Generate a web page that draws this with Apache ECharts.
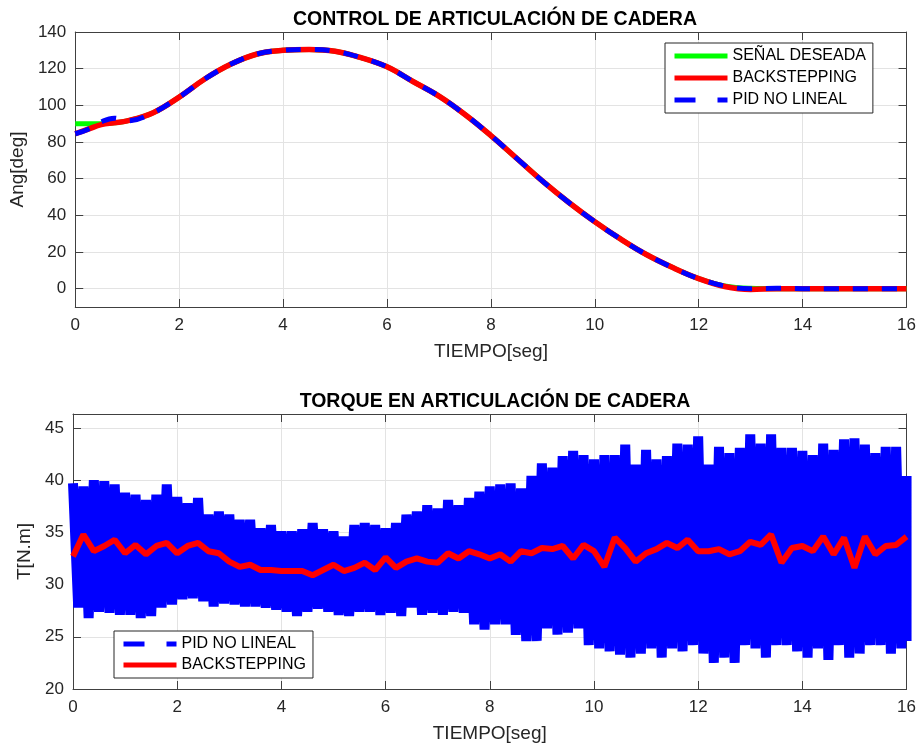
<!DOCTYPE html>
<html><head><meta charset="utf-8">
<script src="https://cdn.jsdelivr.net/npm/echarts@6/dist/echarts.min.js"></script>
<style>html,body{margin:0;padding:0;background:#fff}#c{width:919px;height:749px}</style>
</head><body><div id="c"></div>
<script>
// ---------- Top plot: hip joint angle ----------
const timeAng = [0,0.25,0.5,0.75,1,1.5,2,2.5,3,3.5,4,4.5,5,5.5,6,6.5,7,7.5,8,8.5,9,9.5,10,10.5,11,11.5,12,12.5,13,13.5,14,14.5,15,15.5,16];
const angDeseada = [90,90,90,90.5,91.5,96,104.5,114.5,122.5,128,130,130.5,129.5,126,121,113,105,95,83.5,71,58.5,47,36.5,27,18.5,11.5,5.5,1.5,0.2,0,0,0,0,0,0];
const angBackstepping = [84.5,87,89.5,90.5,91.5,96,104.5,114.5,122.5,128,130,130.5,129.5,126,121,113,105,95,83.5,71,58.5,47,36.5,27,18.5,11.5,5.5,1.2,-0.4,0,0,0,0,0,0];
const angPid = [84.5,87,91,93,91.5,96,104.5,114.5,122.5,128,130,130.5,129.5,126,121,113,105,95,83.5,71,58.5,47,36.5,27,18.5,11.5,5.5,1.5,0,0.2,0,0,0,0,0];
const angTicks = [0,20,40,60,80,100,120,140];

// ---------- Bottom plot: hip joint torque ----------
const timeTorque = [0,0.2,0.4,0.6,0.8,1,1.2,1.4,1.6,1.8,2,2.2,2.4,2.6,2.8,3,3.2,3.4,3.6,3.8,4,4.2,4.4,4.6,4.8,5,5.2,5.4,5.6,5.8,6,6.2,6.4,6.6,6.8,7,7.2,7.4,7.6,7.8,8,8.2,8.4,8.6,8.8,9,9.2,9.4,9.6,9.8,10,10.2,10.4,10.6,10.8,11,11.2,11.4,11.6,11.8,12,12.2,12.4,12.6,12.8,13,13.2,13.4,13.6,13.8,14,14.2,14.4,14.6,14.8,15,15.2,15.4,15.6,15.8,16];
// PID NO LINEAL oscillation extremes (peaks / troughs)
const torquePidHigh = [39.7,39.4,40.0,39.9,39.6,38.8,38.6,38.1,38.6,39.6,38.4,37.8,38.3,36.7,37.0,36.7,36.2,36.2,35.4,35.7,35.1,35.1,35.3,35.9,35.3,35.1,34.6,35.7,35.9,35.7,35.4,35.9,36.7,37.0,37.6,37.3,38.1,37.6,38.3,38.9,39.4,39.6,39.7,39.2,40.4,41.6,41.2,42.3,42.8,42.4,42.0,42.4,42.4,43.4,41.5,42.9,42.0,42.3,43.5,43.4,44.2,41.5,43.2,42.6,43.1,44.4,43.5,44.4,43.1,43.1,42.8,42.4,43.5,42.9,43.9,44.0,43.4,42.6,43.2,43.2,40.4];
const torquePidLow = [27.8,26.8,27.4,27.3,27.1,27.1,26.8,27.0,27.8,28.1,28.6,28.7,28.4,27.9,28.2,28.1,27.9,27.9,27.8,27.6,27.4,27.0,27.4,27.7,27.4,27.1,27.0,27.4,27.4,27.1,27.3,27.0,27.8,27.1,27.3,27.1,27.4,27.3,26.2,25.7,26.2,26.2,25.2,24.6,24.6,25.8,25.2,25.4,25.8,24.2,23.9,23.6,23.3,23.0,23.4,23.9,23.0,23.9,23.6,24.2,23.4,22.5,23.0,22.5,24.2,23.9,23.0,24.2,24.2,23.6,23.0,23.9,22.8,24.2,23.0,23.4,24.2,24.2,23.4,23.9,24.6];
const torqueBackstepping = [32.7,34.8,33.2,33.7,34.3,33.0,33.8,32.9,33.7,34.0,33.0,33.7,34.0,33.2,33.0,32.2,31.7,31.9,31.4,31.4,31.3,31.3,31.3,30.9,31.4,31.9,31.3,31.6,32.1,31.4,32.6,31.6,32.2,32.5,32.2,32.1,33.0,32.5,33.2,32.9,32.5,32.9,32.2,33.2,33.0,33.5,33.4,33.7,32.5,33.8,33.2,31.7,34.5,33.5,32.2,33.0,33.4,34.0,33.5,34.3,33.2,33.2,33.4,32.9,33.2,34.1,33.8,34.8,32.1,33.5,33.7,33.2,34.6,32.9,34.5,31.6,34.6,32.9,33.7,33.8,34.6];

const FONT = "'Liberation Sans', Arial, Helvetica, sans-serif";
const AX = '#404040';
const GRIDC = '#e3e3e3';

const zip = (xs, ys) => xs.map((x, i) => [x, ys[i]]);
const pidZigzag = [];
timeTorque.forEach((t, i) => {
  pidZigzag.push([t, torquePidHigh[i]]);
  pidZigzag.push([Math.min(t + 0.1, 16), torquePidLow[i]]);
});

function xMain(grid, nameGap) {
  return {
    type: 'value', gridIndex: grid, min: 0, max: 16, interval: 2,
    name: 'TIEMPO[seg]', nameLocation: 'middle', nameGap: nameGap,
    nameTextStyle: { fontFamily: FONT, fontSize: 19, color: '#262626' },
    axisLine: { show: true, onZero: false, lineStyle: { color: AX, width: 1 } },
    axisTick: { show: true, inside: true, length: 8, lineStyle: { color: AX } },
    axisLabel: { fontFamily: FONT, fontSize: 17, color: '#262626', margin: 10 },
    splitLine: { show: true, lineStyle: { color: GRIDC, width: 1 } }
  };
}
function xMirror(grid) {
  return {
    type: 'value', gridIndex: grid, position: 'top', min: 0, max: 16, interval: 2,
    axisLine: { show: true, onZero: false, lineStyle: { color: AX, width: 1 } },
    axisTick: { show: true, inside: true, length: 8, lineStyle: { color: AX } },
    axisLabel: { show: false }, splitLine: { show: false }
  };
}
const legendCommon = {
  orient: 'vertical', padding: [5, 7, 5, 7],
  itemWidth: 53, itemHeight: 16, borderColor: '#262626', borderWidth: 1, borderRadius: 0,
  backgroundColor: '#fff',
  itemStyle: { opacity: 0, borderWidth: 0 },
  lineStyle: { width: 5 },
  textStyle: { fontFamily: FONT, fontSize: 16, color: '#000', lineHeight: 16 }
};
const pidLegendItem = { name: 'PID NO LINEAL', lineStyle: { type: [21, 22] } };

const option = {
  backgroundColor: '#ffffff',
  animation: false,
  title: [
    { text: 'CONTROL DE ARTICULACIÓN DE CADERA', left: 490, top: 5, textAlign: 'center',
      textStyle: { fontFamily: FONT, fontSize: 19.5, fontWeight: 'bold', color: '#000' } },
    { text: 'TORQUE EN ARTICULACIÓN DE CADERA', left: 490, top: 387, textAlign: 'center',
      textStyle: { fontFamily: FONT, fontSize: 19.5, fontWeight: 'bold', color: '#000' } }
  ],
  legend: [
    Object.assign({}, legendCommon, { left: 665, top: 43, itemGap: 6,
      data: ['SEÑAL DESEADA', 'BACKSTEPPING', pidLegendItem] }),
    Object.assign({}, legendCommon, { left: 114, top: 631, itemGap: 5,
      data: [pidLegendItem, 'BACKSTEPPING'] })
  ],
  grid: [
    { left: 73, top: 32, width: 834, height: 275, show: false },
    { left: 73, top: 414, width: 834, height: 275, show: false }
  ],
  xAxis: [ xMain(0, 35), xMirror(0), xMain(1, 35), xMirror(1) ],
  yAxis: [
    { type: 'value', gridIndex: 0, min: -10, max: 140,
      name: 'Ang[deg]', nameLocation: 'middle', nameGap: 44,
      nameTextStyle: { fontFamily: FONT, fontSize: 19, color: '#262626' },
      axisLine: { show: true, onZero: false, lineStyle: { color: AX, width: 1 } },
      axisTick: { show: true, inside: true, length: 8, customValues: angTicks, lineStyle: { color: AX } },
      axisLabel: { fontFamily: FONT, fontSize: 17, color: '#262626', margin: 9, customValues: angTicks },
      splitLine: { show: true, lineStyle: { color: GRIDC, width: 1 } } },
    { type: 'value', gridIndex: 0, position: 'right', min: -10, max: 140,
      axisLine: { show: true, onZero: false, lineStyle: { color: AX, width: 1 } },
      axisTick: { show: true, inside: true, length: 8, customValues: angTicks, lineStyle: { color: AX } },
      axisLabel: { show: false }, splitLine: { show: false } },
    { type: 'value', gridIndex: 1, min: 20, max: 46.34, interval: 5,
      name: 'T[N.m]', nameLocation: 'middle', nameGap: 36,
      nameTextStyle: { fontFamily: FONT, fontSize: 19, color: '#262626' },
      axisLine: { show: true, onZero: false, lineStyle: { color: AX, width: 1 } },
      axisTick: { show: true, inside: true, length: 8, lineStyle: { color: AX } },
      axisLabel: { fontFamily: FONT, fontSize: 17, color: '#262626', margin: 9, showMaxLabel: false },
      splitLine: { show: true, lineStyle: { color: GRIDC, width: 1 } } },
    { type: 'value', gridIndex: 1, position: 'right', min: 20, max: 46.34, interval: 5,
      axisLine: { show: true, onZero: false, lineStyle: { color: AX, width: 1 } },
      axisTick: { show: true, inside: true, length: 8, lineStyle: { color: AX } },
      axisLabel: { show: false }, splitLine: { show: false } }
  ],
  series: [
    { name: 'SEÑAL DESEADA', type: 'line', xAxisIndex: 0, yAxisIndex: 0, symbol: 'none', smooth: 0.4,
      data: zip(timeAng, angDeseada), lineStyle: { color: '#00ff00', width: 5 }, itemStyle: { color: '#00ff00' } },
    { name: 'BACKSTEPPING', type: 'line', xAxisIndex: 0, yAxisIndex: 0, symbol: 'none', smooth: 0.4,
      data: zip(timeAng, angBackstepping), lineStyle: { color: '#ff0000', width: 5.5 }, itemStyle: { color: '#ff0000' } },
    { name: 'PID NO LINEAL', type: 'line', xAxisIndex: 0, yAxisIndex: 0, symbol: 'none', smooth: 0.4,
      data: zip(timeAng, angPid), lineStyle: { color: '#0000ff', width: 5, type: [15, 14] }, itemStyle: { color: '#0000ff' } },
    { name: 'PID NO LINEAL', type: 'line', xAxisIndex: 2, yAxisIndex: 2, symbol: 'none',
      data: pidZigzag, lineStyle: { color: '#0000ff', width: 10, join: 'bevel' }, itemStyle: { color: '#0000ff' } },
    { name: 'BACKSTEPPING', type: 'line', xAxisIndex: 2, yAxisIndex: 2, symbol: 'none',
      data: zip(timeTorque, torqueBackstepping), lineStyle: { color: '#ff0000', width: 6 }, itemStyle: { color: '#ff0000' } }
  ]
};
const chart = echarts.init(document.getElementById('c'), null, { renderer: 'canvas' });
chart.setOption(option);
</script>
</body></html>
